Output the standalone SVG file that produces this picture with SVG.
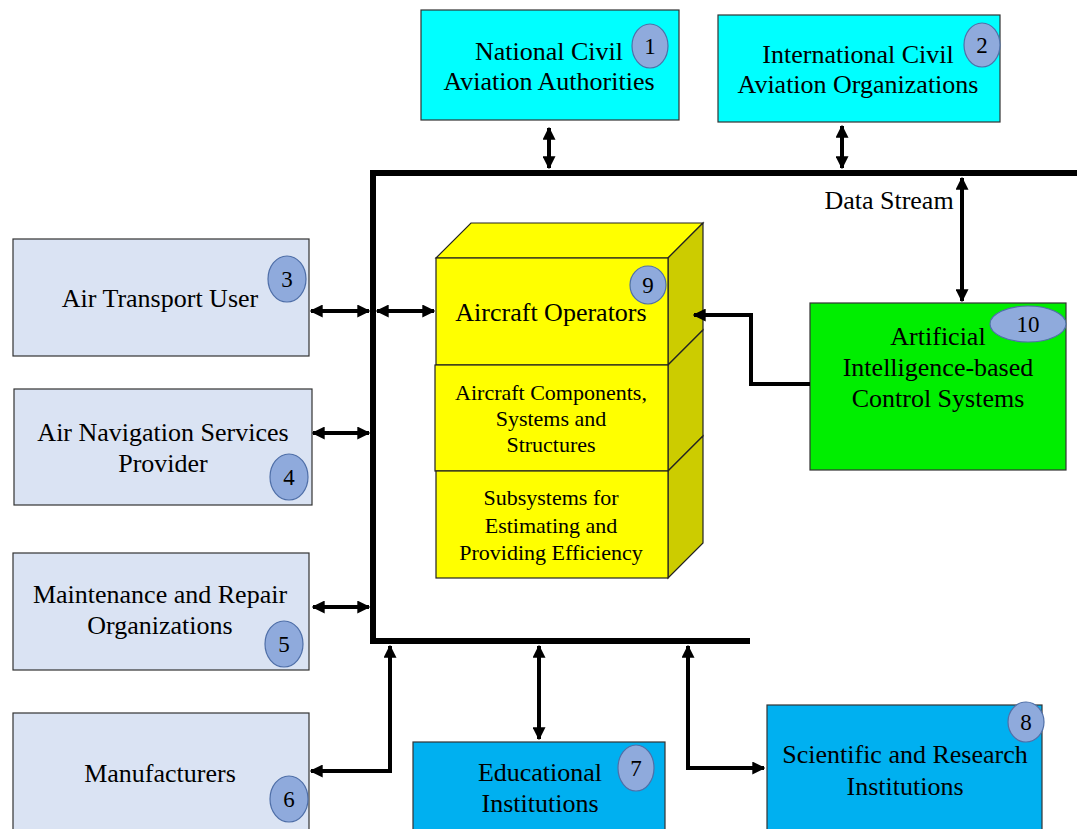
<svg xmlns="http://www.w3.org/2000/svg" width="1077" height="829" viewBox="0 0 1077 829">
<defs>
<marker id="ah" viewBox="0 0 10 10" refX="9" refY="5" markerUnits="userSpaceOnUse" markerWidth="13" markerHeight="13" orient="auto-start-reverse">
<path d="M0,0 L10,5 L0,10 z" fill="#000"/>
</marker>
<style>
text{font-family:"Liberation Serif","Times New Roman",serif;fill:#000;text-anchor:middle}
.t{font-size:26px}
.s{font-size:22px}
.n{font-size:23px}
.cy{fill:#00ffff;stroke:#333;stroke-width:1.2}
.gr{fill:#dae3f3;stroke:#333;stroke-width:1.2}
.bl{fill:#00b0f0;stroke:#333;stroke-width:1.2}
.num{fill:#8faadc;stroke:#4f6fa8;stroke-width:1.2}
.yf{fill:#ffff00;stroke:#222;stroke-width:1.2}
.ys{fill:#cccc00;stroke:#222;stroke-width:1.2}
.bus{stroke:#000;stroke-width:6;fill:none}
.c{stroke:#000;stroke-width:4;fill:none}
</style>
</defs>
<rect width="1077" height="829" fill="#fff"/>

<g id="n1">
<rect class="cy" x="421" y="10" width="258" height="110"/>
<text class="t" x="549" y="60">National Civil</text>
<text class="t" x="549" y="90">Aviation Authorities</text>
<ellipse class="num" cx="650" cy="46" rx="18" ry="22"/>
<text class="n" x="650" y="54">1</text>
</g>

<g id="n2">
<rect class="cy" x="718" y="15" width="282" height="107"/>
<text class="t" x="858" y="63">International Civil</text>
<text class="t" x="858" y="93">Aviation Organizations</text>
<ellipse class="num" cx="982" cy="45" rx="18" ry="22"/>
<text class="n" x="982" y="53">2</text>
</g>

<g id="n3">
<rect class="gr" x="13" y="239" width="296" height="117"/>
<text class="t" x="160" y="307">Air Transport User</text>
<ellipse class="num" cx="287" cy="279" rx="19" ry="23"/>
<text class="n" x="287" y="287">3</text>
</g>

<g id="n4">
<rect class="gr" x="14" y="389" width="298" height="116"/>
<text class="t" x="163" y="441">Air Navigation Services</text>
<text class="t" x="163" y="472">Provider</text>
<ellipse class="num" cx="289" cy="477" rx="19" ry="23"/>
<text class="n" x="289" y="485">4</text>
</g>

<g id="n5">
<rect class="gr" x="13" y="553" width="296" height="117"/>
<text class="t" x="160" y="603">Maintenance and Repair</text>
<text class="t" x="160" y="634">Organizations</text>
<ellipse class="num" cx="284" cy="644" rx="19" ry="23"/>
<text class="n" x="284" y="652">5</text>
</g>

<g id="n6">
<rect class="gr" x="13" y="713" width="296" height="125"/>
<text class="t" x="160" y="782">Manufacturers</text>
<ellipse class="num" cx="289" cy="799" rx="19" ry="23"/>
<text class="n" x="289" y="807">6</text>
</g>

<g id="n9">
<polygon class="yf" points="436,258 471,223 703,223 668,258"/>
<polygon class="ys" points="668,258 703,223 703,330 668,365"/>
<polygon class="ys" points="668,365 703,330 703,436 668,471"/>
<polygon class="ys" points="668,471 703,436 703,543 668,578"/>
<rect class="yf" x="436" y="258" width="232" height="107"/>
<rect class="yf" x="435" y="365" width="233" height="106"/>
<rect class="yf" x="436" y="471" width="232" height="107"/>
<text class="t" x="551" y="321">Aircraft Operators</text>
<text class="s" x="551" y="400">Aircraft Components,</text>
<text class="s" x="551" y="426">Systems and</text>
<text class="s" x="551" y="452">Structures</text>
<text class="s" x="551" y="505">Subsystems for</text>
<text class="s" x="551" y="533">Estimating and</text>
<text class="s" x="551" y="560">Providing Efficiency</text>
<ellipse class="num" cx="648" cy="285" rx="18" ry="19"/>
<text class="n" x="648" y="293">9</text>
</g>

<g id="n10">
<rect x="810" y="303" width="256" height="167" fill="#00ee00" stroke="#333" stroke-width="1.2"/>
<text class="t" x="938" y="345">Artificial</text>
<text class="t" x="938" y="376">Intelligence-based</text>
<text class="t" x="938" y="407">Control Systems</text>
<ellipse class="num" cx="1028" cy="324" rx="38" ry="18"/>
<text class="n" x="1028" y="332">10</text>
</g>

<g id="n7">
<rect class="bl" x="413" y="742" width="252" height="95"/>
<text class="t" x="540" y="781">Educational</text>
<text class="t" x="540" y="812">Institutions</text>
<ellipse class="num" cx="636" cy="768" rx="18" ry="23"/>
<text class="n" x="636" y="776">7</text>
</g>

<g id="n8">
<rect class="bl" x="767" y="705" width="275" height="132"/>
<text class="t" x="905" y="763">Scientific and Research</text>
<text class="t" x="905" y="795">Institutions</text>
<ellipse class="num" cx="1026" cy="722" rx="18" ry="20"/>
<text class="n" x="1026" y="730">8</text>
</g>

<g id="connectors">
<path class="bus" d="M1077,173 L373,173 L373,641 L750,641"/>
<line class="c" x1="549" y1="128" x2="549" y2="168" marker-start="url(#ah)" marker-end="url(#ah)"/>
<line class="c" x1="842" y1="126" x2="842" y2="168" marker-start="url(#ah)" marker-end="url(#ah)"/>
<line class="c" x1="962" y1="178" x2="962" y2="301" marker-start="url(#ah)" marker-end="url(#ah)"/>
<line class="c" x1="311" y1="311" x2="369" y2="311" marker-start="url(#ah)" marker-end="url(#ah)"/>
<line class="c" x1="377" y1="311" x2="434" y2="311" marker-start="url(#ah)" marker-end="url(#ah)"/>
<line class="c" x1="313" y1="433" x2="369" y2="433" marker-start="url(#ah)" marker-end="url(#ah)"/>
<line class="c" x1="313" y1="607" x2="369" y2="607" marker-start="url(#ah)" marker-end="url(#ah)"/>
<path class="c" d="M311,771 L390,771 L390,646" marker-start="url(#ah)" marker-end="url(#ah)"/>
<line class="c" x1="539" y1="646" x2="539" y2="739" marker-start="url(#ah)" marker-end="url(#ah)"/>
<path class="c" d="M688,646 L688,768 L764,768" marker-start="url(#ah)" marker-end="url(#ah)"/>
<path class="c" d="M810,384 L751,384 L751,315 L694,315" marker-end="url(#ah)"/>
<text class="t" x="889" y="209">Data Stream</text>
</g>
</svg>
